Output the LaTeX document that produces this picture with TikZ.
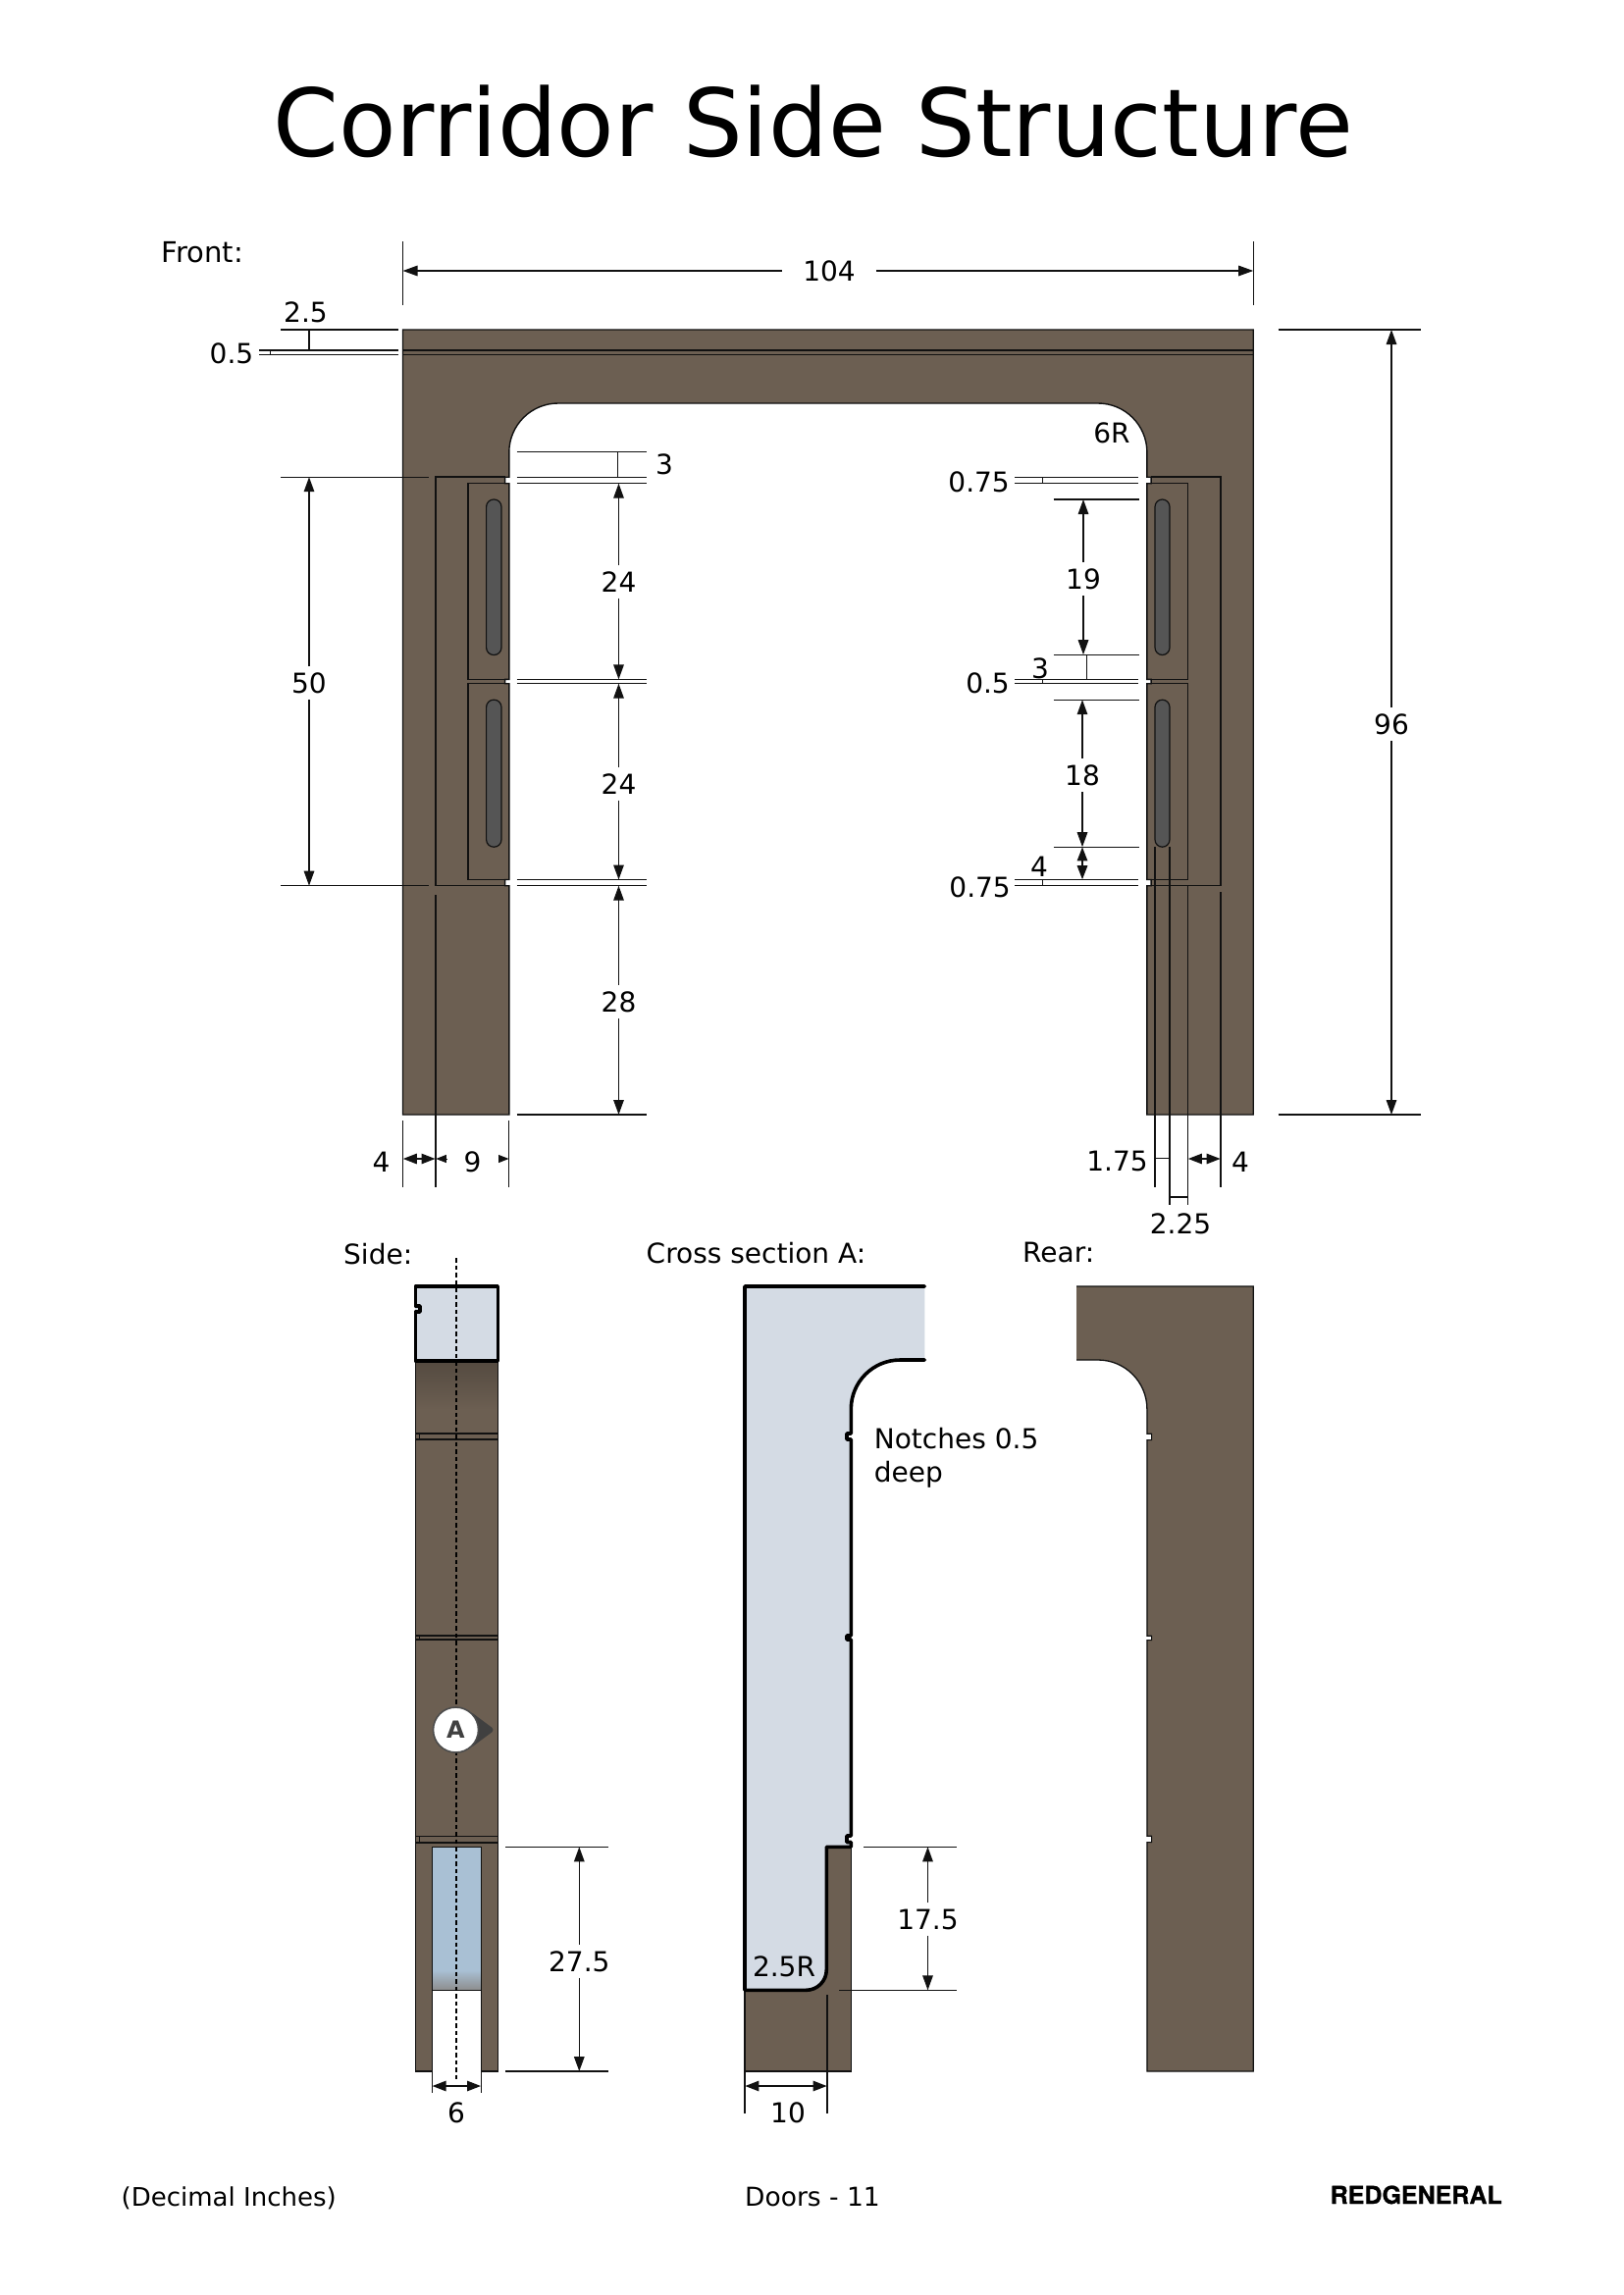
\documentclass[tikz,border=0pt]{standalone}
\usepackage{fontspec}
\setmainfont{DejaVu Sans}
\newfontfamily\brandfont[BoldFeatures={FakeBold=0.8}]{TeX Gyre Heros}
\usetikzlibrary{arrows.meta}
\definecolor{wood}{HTML}{6C5F52}
\definecolor{cutgray}{HTML}{D4DBE4}
\definecolor{glassblue}{HTML}{A9C0D4}
\definecolor{slotgray}{HTML}{555555}
\definecolor{ink}{HTML}{111111}
\tikzset{
  lab/.style={font=\fontsize{28}{33}\selectfont,text=black,inner sep=6pt},
  labwide/.style={lab,inner xsep=21pt},
  txt/.style={font=\fontsize{28}{34.4}\selectfont,text=black,inner sep=0pt,anchor=base west},
  dl/.style={draw=ink,line width=1.3pt},
  hl/.style={draw=ink,line width=1.5pt},
  arr/.style={draw=ink,line width=1.4pt,-{Triangle[length=15pt,width=10.5pt]}},
  both/.style={draw=ink,line width=1.4pt,{Triangle[length=14pt,width=10.5pt]}-{Triangle[length=14pt,width=10.5pt]}},
  stub/.style={draw=ink,line width=1pt,-{Triangle[length=10.5pt,width=8pt]}},
  body/.style={fill=wood,draw=ink,line width=1.4pt,line join=miter},
  cut/.style={draw=black,line width=3.6pt,line join=round,line cap=round},
  slot/.style={fill=slotgray,draw=ink,line width=1.2pt,rounded corners=7.5pt},
}
\newcommand{\vdimen}[6]{% name,x,y1,y2,ylabel,text
  \node[lab] (#1) at (#2,#5) {#6};
  \coordinate (#1a) at (#2,#3);
  \coordinate (#1b) at (#2,#4);
  \draw[arr] (#1) -- (#1a);
  \draw[arr] (#1) -- (#1b);
}
\begin{document}
\begin{tikzpicture}[x=1pt,y=-1pt]
\useasboundingbox (0,0) rectangle (1654,2339);
\fill[white] (0,0) rectangle (1654,2339);

% ---------- title
\node[inner sep=0pt,anchor=base,font=\fontsize{95.7}{100}\selectfont] (title) at (828.5,160) {Corridor Side Structure};

% ---------- front view
\path[body] (410.5,336) -- (1277.2,336) -- (1277.2,1136) -- (1168.9,1136) -- (1168.9,902.7)
  -- (1173.1,902.7) -- (1173.1,896.5) -- (1168.9,896.5) -- (1168.9,696.7)
  -- (1173.1,696.7) -- (1173.1,692.4) -- (1168.9,692.4) -- (1168.9,492.7)
  -- (1173.1,492.7) -- (1173.1,486.2) -- (1168.9,486.2) -- (1168.9,461)
  .. controls (1168.9,433.4) and (1146.5,411) .. (1118.9,411) -- (568.8,411)
  .. controls (541.2,411) and (518.8,433.4) .. (518.8,461) -- (518.8,486.2)
  -- (514.6,486.2) -- (514.6,492.7) -- (518.8,492.7) -- (518.8,692.4)
  -- (514.6,692.4) -- (514.6,696.7) -- (518.8,696.7) -- (518.8,896.5)
  -- (514.6,896.5) -- (514.6,902.7) -- (518.8,902.7) -- (518.8,1136) -- (410.5,1136) -- cycle;
% roof grooves
\draw[dl] (410.5,357) -- (1277.2,357);
\draw[dl] (410.5,361.5) -- (1277.2,361.5);
% left bracket
\draw[hl] (514.6,486.2) -- (443.8,486.2) -- (443.8,902.7) -- (514.6,902.7);
\draw[hl] (518.8,492.7) -- (477.2,492.7) -- (477.2,692.4) -- (518.8,692.4);
\draw[hl] (518.8,696.7) -- (477.2,696.7) -- (477.2,896.5) -- (518.8,896.5);
\draw[slot] (495.6,509) rectangle (511,667.5);
\draw[slot] (495.6,713.2) rectangle (511,863.2);
% right bracket
\draw[hl] (1173.1,486.2) -- (1243.9,486.2) -- (1243.9,902.7) -- (1173.1,902.7);
\draw[hl] (1168.9,492.7) -- (1210.5,492.7) -- (1210.5,692.4) -- (1168.9,692.4);
\draw[hl] (1168.9,696.7) -- (1210.5,696.7) -- (1210.5,896.5) -- (1168.9,896.5);
\draw[slot] (1177,509) rectangle (1192,667.5);
\draw[slot] (1177,713.2) rectangle (1192,863.2);

% width dimension
\node[labwide] (d104) at (845,276) {104};
\coordinate (d104a) at (410.5,276);
\coordinate (d104b) at (1277.2,276);
\draw[arr] (d104) -- (d104a);
\draw[arr] (d104) -- (d104b);
\draw[dl] (410.5,246) -- (410.5,311);
\draw[dl] (1277.2,246) -- (1277.2,311);

% height dimension
\vdimen{d96}{1418}{336}{1136}{738}{96}
\draw[dl] (1302.5,336) -- (1447.5,336);
\draw[dl] (1302.5,1136) -- (1447.5,1136);

% top left 2.5 / 0.5
\draw[dl] (286,336) -- (406,336);
\draw[dl] (264,357) -- (406,357);
\draw[dl] (264,361.5) -- (406,361.5);
\draw[dl] (315,336) -- (315,357);
\draw[dl] (275.3,357) -- (275.3,361.5);
\node[lab] (t25) at (311.5,318) {2.5};
\node[lab] (t05) at (236,360) {0.5};

% 50
\vdimen{d50}{315}{486.2}{902.7}{696}{50}
\draw[dl] (286,486.2) -- (436.7,486.2);
\draw[dl] (286,902.7) -- (436.7,902.7);

% inner left dims
\foreach \yy in {460.7,486.2,492.7,692.4,696.7,896.5,902.7,1136}{
  \draw[dl] (526.7,\yy) -- (659,\yy);
}
\draw[dl] (629.7,460.7) -- (629.7,486.2);
\node[lab] (t3a) at (677,473) {3};
\vdimen{d24a}{630.5}{492.7}{692.4}{593}{24}
\vdimen{d24b}{630.5}{696.7}{896.5}{799}{24}
\vdimen{d28}{630.5}{902.7}{1136}{1021}{28}

% below left leg
\draw[dl] (410.5,1142) -- (410.5,1210);
\draw[hl] (443.8,912) -- (443.8,1210);
\draw[dl] (518.8,1142) -- (518.8,1210);
\draw[both] (410.8,1181) -- (443.5,1181);
\coordinate (n9a) at (454.5,1181);
\coordinate (n9b) at (444.3,1181);
\coordinate (n9c) at (508.3,1181);
\coordinate (n9d) at (518.5,1181);
\draw[stub] (n9a) -- (n9b);
\draw[stub] (n9c) -- (n9d);
\node[lab] (t4l) at (388.5,1184) {4};
\node[lab] (t9) at (481.5,1184) {9};

% inner right dims
\foreach \yy in {486.2,492.7,692.4,696.7,896.5,902.7}{
  \draw[dl] (1034,\yy) -- (1160,\yy);
}
\foreach \yy in {509,667.2,713.2,863.2}{
  \draw[dl] (1073.5,\yy) -- (1160.5,\yy);
}
\draw[dl] (1073.5,896.5) -- (1160,896.5);
\draw[dl] (1062.7,486.2) -- (1062.7,492.7);
\draw[dl] (1062.7,692.4) -- (1062.7,696.7);
\draw[dl] (1062.7,896.5) -- (1062.7,902.7);
\draw[dl] (1107.3,667.2) -- (1107.3,692.4);
\node[lab] (t6r) at (1133,441) {6R};
\node[lab,anchor=east,inner sep=0pt] (t075a) at (1029,491) {0.75};
\node[lab,anchor=east,inner sep=0pt] (t05b) at (1029,696) {0.5};
\node[lab,anchor=east,inner sep=0pt] (t075b) at (1030,904) {0.75};
\node[lab] (t3b) at (1060,681) {3};
\node[lab] (t4b) at (1059,883) {4};
\vdimen{d19}{1104}{509}{667.2}{590}{19}
\vdimen{d18}{1103}{713.2}{863.2}{790}{18}
\draw[both] (1103,863.4) -- (1103,896.2);

% below right leg
\draw[dl] (1177,863.2) -- (1177,1210);
\draw[hl] (1192,863.2) -- (1192,1228);
\draw[dl] (1210.6,902.7) -- (1210.6,1228);
\draw[hl] (1243.9,909) -- (1243.9,1210);
\draw[dl] (1177,1180.7) -- (1192,1180.7);
\draw[dl] (1192,1220) -- (1210.6,1220);
\draw[both] (1210.9,1181) -- (1243.6,1181);
\node[lab] (t175) at (1138.5,1183) {1.75};
\node[lab] (t4r) at (1264,1184) {4};
\node[lab] (t225) at (1203,1247) {2.25};

% view names
\node[txt,font=\fontsize{29}{34}\selectfont] (front) at (164.5,267) {Front:};
\node[txt] (side) at (350,1288) {Side:};
\node[txt] (csa) at (658.5,1287) {Cross section A:};
\node[txt] (rear) at (1042,1286) {Rear:};

% ---------- side view
\shade[top color=wood!78!black,bottom color=wood] (423.3,1387) rectangle (507.3,1437);
\fill[wood] (423.3,1437) rectangle (507.3,2111);
\draw[dl] (423.3,1387) -- (423.3,2111) -- (440.3,2111);
\draw[dl] (507.3,1387) -- (507.3,2111) -- (490.3,2111);
\foreach \ya/\yb in {1461/1467,1667/1671,1871.7/1878}{
  \draw[dl] (423.3,\ya) -- (507.3,\ya);
  \draw[dl] (423.3,\yb) -- (507.3,\yb);
  \draw[dl] (427.7,\ya) -- (427.7,\yb);
}
% opening
\fill[glassblue] (440.3,1882.3) rectangle (490.3,2008);
\shade[top color=glassblue,bottom color=black!45] (440.3,2008) rectangle (490.3,2028.3);
\fill[white] (440.3,2028.3) rectangle (490.3,2112);
\draw[hl] (440.3,2133) -- (440.3,1882.3) -- (490.3,1882.3) -- (490.3,2133);
\draw[hl] (440.3,2028.3) -- (490.3,2028.3);
% section cap
\fill[cutgray] (423.3,1311) rectangle (507.3,1387);
\draw[cut] (423.3,1311) -- (507.3,1311) -- (507.3,1387) -- (423.3,1387) -- (423.3,1337)
  -- (428,1337) -- (428,1331) -- (423.3,1331) -- cycle;
% centre line
\draw[draw=black,line width=1.2pt,dash pattern=on 4.5pt off 3pt] (465,1282) -- (465,2122);
% section marker
\fill[black!75,rounded corners=4pt] (478.8,1744) -- (504.5,1763) -- (478.8,1782) -- (470,1763) -- cycle;
\node[circle,fill=white,draw=black!70,line width=1.6pt,minimum size=46pt,inner sep=0pt,
      font=\bfseries\fontsize{24}{26}\selectfont,text=black!75] (mark) at (464.5,1763) {A};
% side dims
\draw[both] (440.6,2126) -- (490,2126);
\node[lab] (t6) at (465,2153) {6};
\vdimen{d275}{590.3}{1882.3}{2111}{1999}{27.5}
\draw[dl] (515,1882.3) -- (620,1882.3);
\draw[dl] (515,2111) -- (620,2111);

% ---------- cross section A
\fill[wood] (759,1882.3) rectangle (867.3,2111);
\draw[dl] (759,2028.3) -- (759,2111) -- (867.3,2111) -- (867.3,1882.3);
\path[fill=cutgray] (942.3,1311) -- (759,1311) -- (759,2028.3) -- (821.5,2028.3)
  .. controls (833,2028.3) and (842.3,2019) .. (842.3,2007.5) -- (842.3,1882.3) -- (867.3,1882.3)
  -- (867.3,1877.5) -- (863,1877.5) -- (863,1871) -- (867.3,1871)
  -- (867.3,1671) -- (863,1671) -- (863,1667) -- (867.3,1667)
  -- (867.3,1467) -- (863,1467) -- (863,1461) -- (867.3,1461)
  -- (867.3,1436) .. controls (867.3,1408.4) and (889.7,1386) .. (917.3,1386) -- (942.3,1386) -- cycle;
\draw[cut] (942.3,1311) -- (759,1311) -- (759,2028.3) -- (821.5,2028.3)
  .. controls (833,2028.3) and (842.3,2019) .. (842.3,2007.5) -- (842.3,1882.3) -- (867.3,1882.3)
  -- (867.3,1877.5) -- (863,1877.5) -- (863,1871) -- (867.3,1871)
  -- (867.3,1671) -- (863,1671) -- (863,1667) -- (867.3,1667)
  -- (867.3,1467) -- (863,1467) -- (863,1461) -- (867.3,1461)
  -- (867.3,1436) .. controls (867.3,1408.4) and (889.7,1386) .. (917.3,1386) -- (942.3,1386);
\node[txt,align=left,anchor=north west] (notch) at (890.7,1455) {Notches 0.5\\deep};
\node[lab] (t25r) at (799,2004) {2.5R};
% section dims
\draw[dl] (759,2111) -- (759,2154);
\draw[dl] (843,2033) -- (843,2154);
\draw[both] (759.4,2126) -- (842.6,2126);
\node[lab] (t10) at (803,2153) {10};
\vdimen{d175}{945.5}{1882.3}{2028.3}{1956}{17.5}
\draw[dl] (880,1882.3) -- (975,1882.3);
\draw[dl] (855,2028.3) -- (975,2028.3);

% ---------- rear view
\fill[wood] (1097,1311) -- (1277.2,1311) -- (1277.2,2111) -- (1168.9,2111) -- (1168.9,1436)
  .. controls (1168.9,1408.4) and (1146.5,1386) .. (1118.9,1386) -- (1097,1386) -- cycle;
\draw[dl] (1097,1311) -- (1277.2,1311) -- (1277.2,2111) -- (1168.9,2111) -- (1168.9,1877.5)
  -- (1173.4,1877.5) -- (1173.4,1871.2) -- (1168.9,1871.2) -- (1168.9,1671.5)
  -- (1173.4,1671.5) -- (1173.4,1667.2) -- (1168.9,1667.2) -- (1168.9,1467.5)
  -- (1173.4,1467.5) -- (1173.4,1461.2) -- (1168.9,1461.2) -- (1168.9,1436)
  .. controls (1168.9,1408.4) and (1146.5,1386) .. (1118.9,1386) -- (1097,1386);
\fill[white] (1168.2,1461.9) rectangle (1172.7,1466.8);
\fill[white] (1168.2,1667.9) rectangle (1172.7,1670.8);
\fill[white] (1168.2,1871.9) rectangle (1172.7,1876.8);

% ---------- footer
\node[txt,font=\fontsize{26}{30}\selectfont] (units) at (123.5,2248.5) {(Decimal Inches)};
\node[txt,anchor=base,font=\fontsize{26.5}{30}\selectfont] (page) at (828,2248.5) {Doors - 11};
\node[inner sep=0pt,anchor=base west,font=\brandfont\bfseries\fontsize{25}{28}\selectfont] (brand) at (1355.5,2246) {REDGENERAL};
\end{tikzpicture}
\end{document}
